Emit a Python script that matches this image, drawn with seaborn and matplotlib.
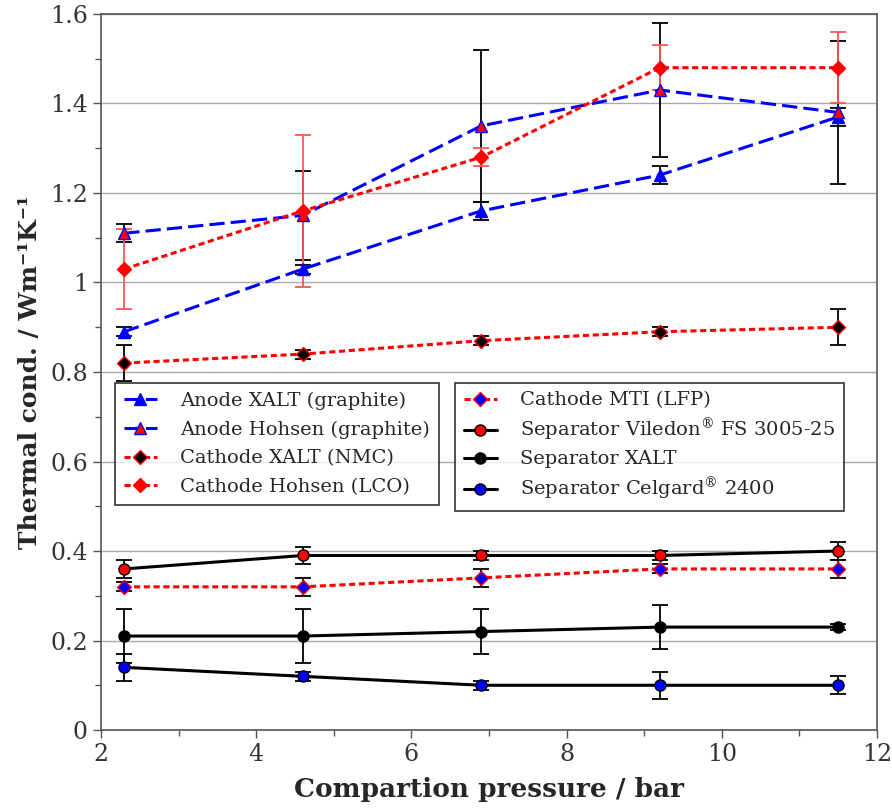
import numpy as np
import matplotlib
matplotlib.use("Agg")
import matplotlib.pyplot as plt
import seaborn as sns

# compaction pressure (bar)
pressure = [2.3, 4.6, 6.9, 9.2, 11.5]

# thermal conductivity (W/mK) and error bars
anode_xalt = [0.89, 1.03, 1.16, 1.24, 1.37]
anode_xalt_err = [0.01, 0.01, 0.02, 0.02, 0.02]
anode_hohsen = [1.11, 1.15, 1.35, 1.43, 1.38]
anode_hohsen_err = [0.02, 0.10, 0.17, 0.15, 0.16]
cath_xalt = [0.82, 0.84, 0.87, 0.89, 0.90]
cath_xalt_err = [0.04, 0.01, 0.01, 0.01, 0.04]
cath_hohsen = [1.03, 1.16, 1.28, 1.48, 1.48]
cath_hohsen_err = [0.09, 0.17, 0.02, 0.05, 0.08]
cath_mti = [0.32, 0.32, 0.34, 0.36, 0.36]
cath_mti_err = [0.01, 0.02, 0.02, 0.01, 0.02]
sep_viledon = [0.36, 0.39, 0.39, 0.39, 0.40]
sep_viledon_err = [0.02, 0.02, 0.01, 0.01, 0.02]
sep_xalt = [0.21, 0.21, 0.22, 0.23, 0.23]
sep_xalt_err = [0.06, 0.06, 0.05, 0.05, 0.007]
sep_celgard = [0.14, 0.12, 0.10, 0.10, 0.10]
sep_celgard_err = [0.03, 0.01, 0.01, 0.03, 0.02]

labels = [
    "Anode XALT (graphite)",
    "Anode Hohsen (graphite)",
    "Cathode XALT (NMC)",
    "Cathode Hohsen (LCO)",
    "Cathode MTI (LFP)",
    "Separator Viledon$^{\\circledR}$ FS 3005-25",
    "Separator XALT",
    "Separator Celgard$^{\\circledR}$ 2400",
]

sns.set_style("white")
plt.rcParams["font.family"] = ["DejaVu Serif"]
plt.rcParams["mathtext.fontset"] = "dejavuserif"

fig, ax = plt.subplots(figsize=(8.92, 8.08), dpi=100)
fig.subplots_adjust(left=0.1132, right=0.9832, bottom=0.0965, top=0.9827)

long_dash = (0, (5, 2))
short_dash = (0, (2, 1.2))

series = [
    (anode_xalt, anode_xalt_err, "blue", long_dash, "^", "blue", "blue", "black"),
    (anode_hohsen, anode_hohsen_err, "blue", long_dash, "^", "red", "blue", "black"),
    (cath_xalt, cath_xalt_err, "red", short_dash, "D", "black", "red", "black"),
    (cath_hohsen, cath_hohsen_err, "red", short_dash, "D", "red", "red", "#ff5555"),
    (cath_mti, cath_mti_err, "red", short_dash, "D", "blue", "red", "black"),
    (sep_viledon, sep_viledon_err, "black", "-", "o", "red", "black", "black"),
    (sep_xalt, sep_xalt_err, "black", "-", "o", "black", "black", "black"),
    (sep_celgard, sep_celgard_err, "black", "-", "o", "blue", "black", "black"),
]

for (vals, err, col, ls, mk, mfc, mec, ecol), lab in zip(series, labels):
    ax.errorbar(pressure, vals, yerr=err, fmt="none", ecolor=ecol,
                elinewidth=1.3, capsize=6, capthick=1.3, zorder=3)
    ms = 7 if mk == "D" else 8
    sns.lineplot(x=pressure, y=vals, ax=ax, color=col, linestyle=ls, lw=2.2,
                 marker=mk, markersize=ms, markerfacecolor=mfc,
                 markeredgecolor=mec, markeredgewidth=1.0, label=lab,
                 errorbar=None, zorder=4)

ax.set_xlim(2, 12)
ax.set_ylim(0, 1.6)
ax.set_xticks([2, 4, 6, 8, 10, 12])
ax.set_xticks([3, 5, 7, 9, 11], minor=True)
ax.set_yticks(np.arange(0, 1.61, 0.2))
ax.set_yticks(np.arange(0.1, 1.6, 0.2), minor=True)
ax.set_yticklabels(["0", "0.2", "0.4", "0.6", "0.8", "1", "1.2", "1.4", "1.6"])
ax.yaxis.grid(True, color="#aaaaaa", lw=1.0)
ax.set_axisbelow(True)

ax.tick_params(which="major", direction="out", length=6, width=1.0,
               color="#555555", labelsize=17, labelcolor="#333333",
               left=True, bottom=True)
ax.tick_params(which="minor", direction="out", length=4, width=1.0,
               color="#555555", left=True, bottom=True)
for sp in ax.spines.values():
    sp.set_color("#555555")
    sp.set_linewidth(1.2)

ax.set_xlabel("Compartion pressure / bar", fontsize=19, fontweight="bold", labelpad=8)
ax.set_ylabel("Thermal cond. / Wm\u207b\u00b9K\u207b\u00b9",
              fontsize=18, fontweight="bold", labelpad=6)

handles, labs = ax.get_legend_handles_labels()
leg_kw = dict(loc="upper left", borderaxespad=0, fontsize=14, frameon=True,
              fancybox=False, edgecolor="black", handlelength=1.7,
              handletextpad=1.2, borderpad=0.45)
leg1 = ax.legend(handles[:4], labs[:4], bbox_to_anchor=(0.018, 0.485),
                 labelspacing=0.55, **leg_kw)
leg1.get_frame().set_linewidth(1.2)
ax.add_artist(leg1)
leg2 = ax.legend(handles[4:], labs[4:], bbox_to_anchor=(0.456, 0.485),
                 labelspacing=0.36, **leg_kw)
leg2.get_frame().set_linewidth(1.2)

fig.savefig("out.png", dpi=100)
